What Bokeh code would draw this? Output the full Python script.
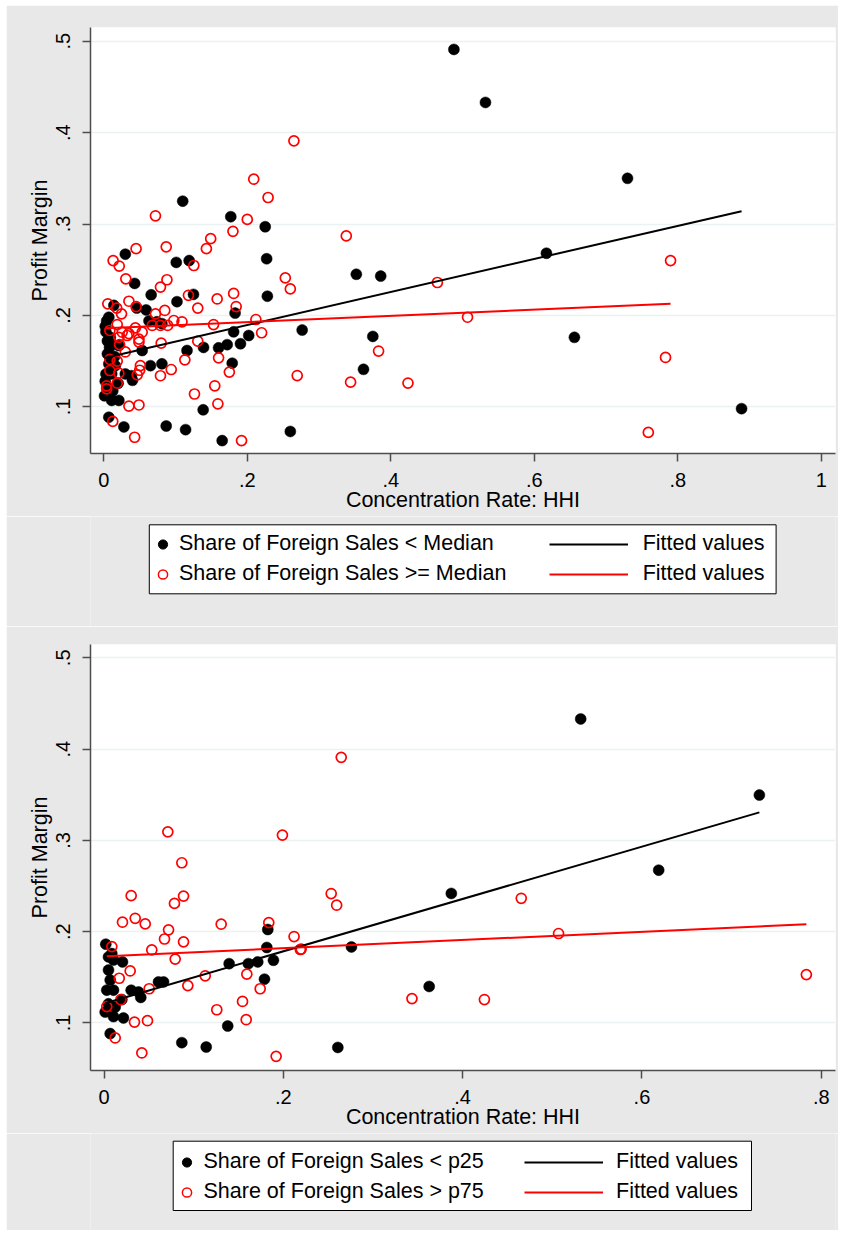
import numpy as np
from bokeh.plotting import figure
from bokeh.models import (Range1d, FixedTicker, CustomJSTickFormatter, Legend,
                          LegendItem, BoxAnnotation)
from bokeh.layouts import column
from bokeh.embed import file_html
from bokeh.resources import INLINE

FONT = "Liberation Sans"
GREY = "#E8E8E8"
RED = "#FF0000"

# ---------------- data ----------------
top_below_median = [
    (0.488, 0.491), (0.532, 0.433), (0.730, 0.350), (0.617, 0.268), (0.656, 0.176),
    (0.889, 0.098), (0.352, 0.245), (0.386, 0.243), (0.375, 0.177), (0.362, 0.141),
    (0.2765, 0.184), (0.260, 0.073), (0.225, 0.297), (0.227, 0.262), (0.228, 0.221),
    (0.177, 0.308), (0.110, 0.325), (0.119, 0.260), (0.101, 0.258), (0.125, 0.223),
    (0.030, 0.267), (0.043, 0.235), (0.066, 0.2225), (0.102, 0.215), (0.014, 0.211),
    (0.046, 0.208), (0.059, 0.206), (0.183, 0.2025), (0.007, 0.198), (0.002, 0.188),
    (0.004, 0.194), (0.063, 0.194), (0.074, 0.193), (0.081, 0.191), (0.181, 0.182),
    (0.202, 0.178), (0.0535, 0.1616), (0.116, 0.1616), (0.139, 0.165), (0.160, 0.1645),
    (0.172, 0.168), (0.1905, 0.169), (0.065, 0.145), (0.081, 0.147), (0.179, 0.1477),
    (0.040, 0.129), (0.021, 0.107), (0.1385, 0.0967), (0.007, 0.0886), (0.028, 0.078),
    (0.087, 0.079), (0.114, 0.075), (0.165, 0.063),
    (0.009, 0.176), (0.021, 0.167), (0.005, 0.172), (0.011, 0.169), (0.005, 0.158),
    (0.007, 0.147), (0.003, 0.136), (0.011, 0.136), (0.005, 0.121), (0.0125, 0.1175),
    (0.001, 0.112), (0.011, 0.107), (0.030, 0.136), (0.0385, 0.134), (0.020, 0.1257),
    (0.003, 0.182), (0.008, 0.165), (0.015, 0.155), (0.002, 0.128), (0.016, 0.145),
]
top_above_median = [
    (0.265, 0.391), (0.209, 0.349), (0.229, 0.329), (0.072, 0.309), (0.200, 0.305),
    (0.180, 0.292), (0.149, 0.284), (0.143, 0.273), (0.338, 0.287), (0.087, 0.275),
    (0.045, 0.273), (0.013, 0.260), (0.0215, 0.254), (0.1255, 0.2546), (0.0307, 0.240),
    (0.088, 0.239), (0.079, 0.231), (0.253, 0.241), (0.260, 0.229), (0.181, 0.224),
    (0.118, 0.222), (0.158, 0.218), (0.0056, 0.2127), (0.018, 0.208), (0.035, 0.2155),
    (0.045, 0.2097), (0.1845, 0.2097), (0.131, 0.208), (0.085, 0.2054), (0.072, 0.2017),
    (0.0247, 0.2017), (0.0976, 0.1944), (0.109, 0.193), (0.153, 0.190), (0.212, 0.1955),
    (0.220, 0.181), (0.0187, 0.190), (0.0084, 0.1835), (0.0256, 0.1816), (0.035, 0.180),
    (0.044, 0.1864), (0.0535, 0.1816), (0.0675, 0.189), (0.079, 0.189), (0.089, 0.189),
    (0.021, 0.176), (0.0326, 0.178), (0.022, 0.168), (0.049, 0.174), (0.049, 0.1707),
    (0.030, 0.160), (0.080, 0.1696), (0.131, 0.1718), (0.113, 0.1514), (0.160, 0.1536),
    (0.0084, 0.1518), (0.0187, 0.150), (0.0084, 0.1397), (0.021, 0.1368), (0.051, 0.145),
    (0.050, 0.140), (0.0466, 0.135), (0.094, 0.1408), (0.079, 0.134), (0.175, 0.138),
    (0.2696, 0.1342), (0.004, 0.123), (0.004, 0.1197), (0.0187, 0.1258), (0.1264, 0.114),
    (0.1547, 0.123), (0.159, 0.1033), (0.035, 0.1007), (0.049, 0.102), (0.0125, 0.084),
    (0.043, 0.0667), (0.192, 0.063), (0.344, 0.127), (0.383, 0.161), (0.424, 0.126),
    (0.465, 0.236), (0.507, 0.198), (0.790, 0.260), (0.783, 0.154), (0.759, 0.072),
]
top_fit_below = [(0.001, 0.1535), (0.889, 0.314)]
top_fit_above = [(0.002, 0.186), (0.790, 0.2128)]

bot_below_p25 = [
    (0.5317, 0.433), (0.731, 0.3497), (0.6187, 0.2674), (0.3874, 0.2419), (0.276, 0.1833),
    (0.3627, 0.140), (0.2608, 0.0732), (0.1827, 0.2024), (0.1816, 0.1827), (0.189, 0.1687),
    (0.1715, 0.1669), (0.161, 0.165), (0.1396, 0.165), (0.179, 0.148), (0.138, 0.0967),
    (0.0868, 0.0785), (0.114, 0.0737), (0.002, 0.1863), (0.0087, 0.176), (0.0206, 0.1669),
    (0.005, 0.1724), (0.0106, 0.169), (0.005, 0.158), (0.0069, 0.147), (0.0031, 0.136),
    (0.0106, 0.136), (0.005, 0.121), (0.0125, 0.1175), (0.0013, 0.112), (0.0106, 0.107),
    (0.0217, 0.1055), (0.0069, 0.0884), (0.0608, 0.145), (0.0664, 0.145), (0.0303, 0.1359),
    (0.0385, 0.134), (0.041, 0.128), (0.0199, 0.1257),
]
bot_above_p75 = [
    (0.0712, 0.3094), (0.199, 0.3058), (0.0868, 0.2755), (0.0303, 0.2395), (0.0887, 0.239),
    (0.0786, 0.231), (0.0206, 0.2104), (0.0348, 0.2147), (0.046, 0.2085), (0.1307, 0.2082),
    (0.1838, 0.210), (0.072, 0.202), (0.0675, 0.192), (0.0887, 0.1889), (0.212, 0.1947),
    (0.2199, 0.181), (0.0087, 0.1837), (0.0533, 0.180), (0.0794, 0.170), (0.0292, 0.157),
    (0.017, 0.149), (0.1129, 0.1517), (0.1593, 0.1535), (0.0935, 0.141), (0.0504, 0.1375),
    (0.1742, 0.1375), (0.0188, 0.1255), (0.0031, 0.118), (0.1545, 0.1236), (0.1258, 0.1145),
    (0.034, 0.101), (0.0485, 0.1025), (0.1586, 0.1036), (0.0125, 0.0836), (0.0422, 0.0672),
    (0.192, 0.0635), (0.2646, 0.391), (0.2534, 0.2418), (0.2595, 0.229), (0.4654, 0.2366),
    (0.507, 0.198), (0.219, 0.1805), (0.3435, 0.1267), (0.4243, 0.1257), (0.7834, 0.153),
]
bot_fit_below = [(0.0013, 0.1216), (0.731, 0.3307)]
bot_fit_above = [(0.0031, 0.173), (0.7834, 0.2082)]

y_ticks = [0.1, 0.2, 0.3, 0.4, 0.5]
y_tick_labels = [".1", ".2", ".3", ".4", ".5"]
top_x_ticks = [0, 0.2, 0.4, 0.6, 0.8, 1.0]
top_x_tick_labels = ["0", ".2", ".4", ".6", ".8", "1"]
bot_x_ticks = [0, 0.2, 0.4, 0.6, 0.8]
bot_x_tick_labels = ["0", ".2", ".4", ".6", ".8"]

x_title = "Concentration Rate: HHI"
y_title = "Profit Margin"
top_labels = ["Share of Foreign Sales < Median", "Share of Foreign Sales >= Median"]
bot_labels = ["Share of Foreign Sales < p25", "Share of Foreign Sales > p75"]
fit_label = "Fitted values"

W = 832          # figure width
FRAME_W = 745    # plot frame width (W - 84 - 3)


def xy(pairs):
    return [a for a, b in pairs], [b for a, b in pairs]


def fmt(vals, labs):
    return CustomJSTickFormatter(args=dict(vals=vals, labs=labs), code="""
        for (let i = 0; i < vals.length; i++) {
            if (Math.abs(vals[i] - tick) < 1e-9) { return labs[i]; }
        }
        return String(tick);
    """)


def make_plot(lo, hi, fit_lo, fit_hi, xr, yr, xticks, xlabs, top_border, bottom_border):
    p = figure(width=W, height=top_border + 426 + bottom_border,
               x_range=Range1d(*xr), y_range=Range1d(*yr),
               output_backend="svg", toolbar_location=None, tools="",
               min_border_left=84, min_border_right=3,
               min_border_top=top_border, min_border_bottom=bottom_border,
               background_fill_color="white", border_fill_color=GREY,
               outline_line_color=None)
    lx, ly = xy(lo)
    hx, hy = xy(hi)
    p.scatter(lx, ly, size=11, fill_color="black", line_color="black", line_width=0.5)
    p.scatter(hx, hy, size=10, fill_color=None, line_color=RED, line_width=1.7)
    fx, fy = xy(fit_lo)
    p.line(fx, fy, line_color="black", line_width=2)
    fx, fy = xy(fit_hi)
    p.line(fx, fy, line_color=RED, line_width=2)

    p.xgrid.visible = False
    p.ygrid.grid_line_color = "#EAF2F3"
    p.ygrid.grid_line_width = 1.5
    p.ygrid.ticker = FixedTicker(ticks=y_ticks)

    for ax in (p.xaxis[0], p.yaxis[0]):
        ax.axis_line_color = "#4D4D4D"
        ax.axis_line_width = 1.5
        ax.major_tick_line_color = "#4D4D4D"
        ax.major_tick_line_width = 1.5
        ax.major_tick_out = 8
        ax.major_tick_in = 0
        ax.minor_tick_line_color = None
        ax.major_label_text_font = FONT
        ax.major_label_text_font_size = "20px"
        ax.major_label_text_color = "black"
        ax.axis_label_text_font = FONT
        ax.axis_label_text_font_size = "21.5px"
        ax.axis_label_text_font_style = "normal"
        ax.axis_label_text_color = "black"

    p.xaxis.ticker = FixedTicker(ticks=xticks)
    p.xaxis.formatter = fmt(xticks, xlabs)
    p.xaxis.axis_label = x_title
    p.xaxis.major_label_standoff = 11
    p.xaxis.axis_label_standoff = -2

    p.yaxis.ticker = FixedTicker(ticks=y_ticks)
    p.yaxis.formatter = fmt(y_ticks, y_tick_labels)
    p.yaxis.axis_label = y_title
    p.yaxis.major_label_orientation = "vertical"
    p.yaxis.major_label_standoff = 12
    p.yaxis.axis_label_standoff = 2
    return p


def make_legend(height, box, labels, row_bottom, spacing, m_x, m_standoff, l_x, l_standoff):
    # frame of this figure is aligned with the plot frames above (745 px wide)
    q = figure(width=W, height=height, x_range=Range1d(0, FRAME_W), y_range=Range1d(0, height),
               output_backend="svg", toolbar_location=None, tools="",
               x_axis_type=None, y_axis_type=None, min_border=0,
               background_fill_color=GREY, border_fill_color=GREY,
               outline_line_color=None)
    q.add_layout(BoxAnnotation(left=box[0], right=box[1], bottom=box[2], top=box[3],
                               fill_color="white", fill_alpha=1.0,
                               line_color="black", line_width=1, line_alpha=1.0,
                               level="underlay"))
    nan = np.array([np.nan])
    r_lo = q.scatter(nan, nan, size=9, fill_color="black", line_color="black")
    r_hi = q.scatter(nan, nan, size=9, fill_color=None, line_color=RED, line_width=1.5)
    f_lo = q.line(nan, nan, line_color="black", line_width=2)
    f_hi = q.line(nan, nan, line_color=RED, line_width=2)

    def leg(items, x, gw, standoff):
        lg = Legend(items=items, location=(x, row_bottom), orientation="vertical",
                    padding=0, margin=0, spacing=spacing,
                    glyph_width=gw, glyph_height=24, label_height=24,
                    label_standoff=standoff,
                    label_text_font=FONT, label_text_font_size="21.5px",
                    label_text_color="black",
                    border_line_color=None, background_fill_alpha=0.0)
        q.add_layout(lg)

    leg([LegendItem(label=labels[0], renderers=[r_lo]),
         LegendItem(label=labels[1], renderers=[r_hi])], m_x, 23, m_standoff)
    leg([LegendItem(label=fit_label, renderers=[f_lo]),
         LegendItem(label=fit_label, renderers=[f_hi])], l_x, 79, l_standoff)
    return q


top = make_plot(top_below_median, top_above_median, top_fit_below, top_fit_above,
                (-0.01854, 1.01993), (0.04891, 0.51499),
                top_x_ticks, top_x_tick_labels, 22, 63)
top_leg = make_legend(110, (58.8, 685.6, 32.7, 101.7), top_labels, 40, 5, 60.9, 5, 458.7, 15)
bot = make_plot(bot_below_p25, bot_above_p75, bot_fit_below, bot_fit_above,
                (-0.01506, 0.8159), (0.04797, 0.51457),
                bot_x_ticks, bot_x_tick_labels, 18, 63)
bot_leg = make_legend(97, (82.7, 661.0, 20.0, 89.3), bot_labels, 26, 5, 84.5, 6, 434.0, 13)

layout = column(top, top_leg, bot, bot_leg, spacing=0, margin=(5, 3, 0, 6))
open("out.html", "w").write(file_html(layout, INLINE))
